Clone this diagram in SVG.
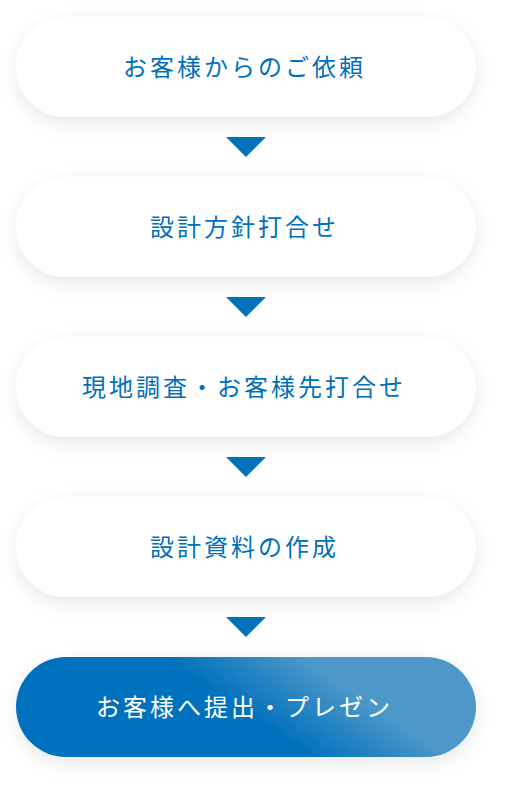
<svg xmlns="http://www.w3.org/2000/svg" width="506" height="788" viewBox="0 0 506 788">
<defs>
<style>
.pill{fill:#ffffff;filter:url(#sh)}
.lbl{font-family:"Noto Sans CJK JP","Noto Sans",sans-serif;font-size:24px;font-weight:400;letter-spacing:3px;fill:#0070BB;dominant-baseline:central}
.lblw{fill:#ffffff}
.tri{fill:#0072BC}
</style>
<filter id="sh" x="-20%" y="-50%" width="140%" height="200%">
<feDropShadow dx="0" dy="6" stdDeviation="9" flood-color="#000000" flood-opacity="0.09"/>
</filter>
<linearGradient id="g" gradientUnits="userSpaceOnUse" x1="250" y1="775" x2="340" y2="640">
<stop offset="0" stop-color="#0071BC"/>
<stop offset="0.3" stop-color="#0071BC"/>
<stop offset="0.78" stop-color="#4D98C8"/>
<stop offset="1" stop-color="#4D98C8"/>
</linearGradient>
</defs>
<rect width="506" height="788" fill="#ffffff"/>
<g id="connectors">
<polygon class="tri" points="226,137 266,137 246,157"/>
<polygon class="tri" points="226,297 266,297 246,317"/>
<polygon class="tri" points="226,457 266,457 246,477"/>
<polygon class="tri" points="226,617 266,617 246,637"/>
</g>
<g id="node1">
<rect class="pill" x="16" y="17" width="460" height="100" rx="50"/>
<text class="lbl" x="123" y="65">お客様からのご依頼</text>
</g>
<g id="node2">
<rect class="pill" x="16" y="177" width="460" height="100" rx="50"/>
<text class="lbl" x="150" y="225">設計方針打合せ</text>
</g>
<g id="node3">
<rect class="pill" x="16" y="337" width="460" height="100" rx="50"/>
<text class="lbl" x="82" y="385">現地調査・お客様先打合せ</text>
</g>
<g id="node4">
<rect class="pill" x="16" y="497" width="460" height="100" rx="50"/>
<text class="lbl" x="150" y="545">設計資料の作成</text>
</g>
<g id="node5">
<rect x="16" y="657" width="460" height="100" rx="50" fill="url(#g)" filter="url(#sh)"/>
<text class="lbl lblw" x="96" y="705">お客様へ提出・プレゼン</text>
</g>
</svg>
